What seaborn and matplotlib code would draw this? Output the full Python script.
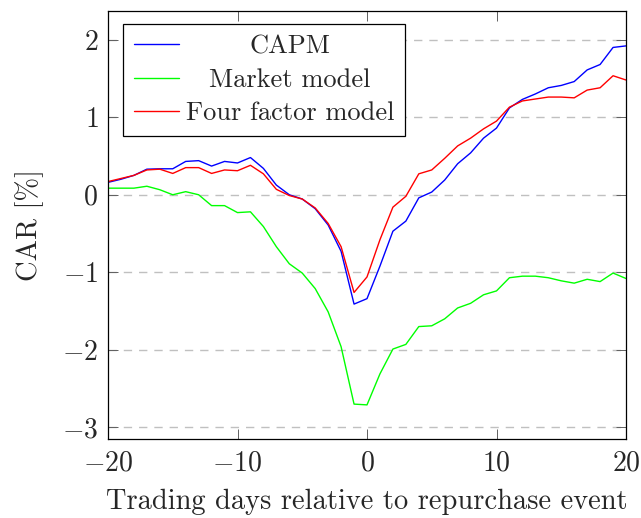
import numpy as np
import pandas as pd
import matplotlib
matplotlib.use("Agg")
import matplotlib.pyplot as plt
import seaborn as sns

days = list(range(-20, 21))

capm = [0.16, 0.20, 0.25, 0.33, 0.335, 0.335, 0.43, 0.44, 0.37, 0.43,
        0.41, 0.48, 0.34, 0.125, 0.0, -0.055, -0.18, -0.39, -0.73, -1.41,
        -1.34, -0.92, -0.47, -0.34, -0.04, 0.035, 0.19, 0.40, 0.54, 0.73,
        0.86, 1.12, 1.23, 1.30, 1.38, 1.41, 1.46, 1.61, 1.68, 1.90, 1.92]

market = [0.085, 0.085, 0.085, 0.11, 0.065, 0.0, 0.04, 0.0, -0.14, -0.14,
          -0.23, -0.22, -0.41, -0.67, -0.89, -1.01, -1.21, -1.51, -1.96, -2.70,
          -2.71, -2.31, -1.99, -1.93, -1.70, -1.69, -1.60, -1.46, -1.40, -1.29,
          -1.24, -1.07, -1.05, -1.05, -1.07, -1.11, -1.14, -1.09, -1.12, -1.01, -1.08]

four = [0.17, 0.21, 0.25, 0.32, 0.33, 0.275, 0.35, 0.35, 0.275, 0.32,
        0.31, 0.38, 0.27, 0.07, -0.01, -0.055, -0.17, -0.37, -0.67, -1.26,
        -1.06, -0.58, -0.16, -0.02, 0.27, 0.32, 0.47, 0.63, 0.73, 0.85,
        0.95, 1.13, 1.21, 1.235, 1.26, 1.26, 1.25, 1.35, 1.38, 1.535, 1.48]

models = ["CAPM", "Market model", "Four factor model"]
colors = ["#0000ff", "#00ff00", "#ff0000"]

df = pd.DataFrame({
    "day": days * 3,
    "car": capm + market + four,
    "model": [m for m in models for _ in days],
})

sns.set_theme(style="ticks")
plt.rcParams["font.family"] = "serif"
plt.rcParams["font.serif"] = ["cmr10"]
plt.rcParams["mathtext.fontset"] = "cm"
plt.rcParams["axes.formatter.use_mathtext"] = True
plt.rcParams["axes.unicode_minus"] = True

fig = plt.figure(figsize=(6.41, 5.18), dpi=100)
ax = fig.add_axes([108 / 641, 79 / 518, 518 / 641, 428 / 518])

sns.lineplot(data=df, x="day", y="car", hue="model", hue_order=models,
             palette=colors, linewidth=1.0, ax=ax, legend=True)

ax.set_xlim(-20, 20)
ax.set_ylim(-3.15, 2.37)
ax.set_xticks([-20, -10, 0, 10, 20])
ax.set_yticks([-3, -2, -1, 0, 1, 2])
ax.yaxis.grid(True, linestyle=(0, (6, 5)), color="#c0c0c0", linewidth=1.0)
ax.set_axisbelow(True)

ax.tick_params(direction="in", length=7, width=0.7, color="#606060",
               top=True, right=True, labelsize=20)
ax.tick_params(axis="x", pad=8)
ax.tick_params(axis="y", pad=7)
for s in ax.spines.values():
    s.set_linewidth(0.9)
    s.set_color("black")

ax.set_xlabel("Trading days relative to repurchase event", fontsize=20.5, labelpad=9)
ax.set_ylabel("CAR [%]", fontsize=20.5, labelpad=13)

handles, labels = ax.get_legend_handles_labels()
leg = ax.legend(handles, labels, loc="upper left", bbox_to_anchor=(0.029, 0.970),
                borderaxespad=0, fontsize=19, frameon=True, fancybox=False,
                framealpha=1, edgecolor="black", handlelength=1.7,
                labelspacing=0.36, borderpad=0.42, handletextpad=0.25)
leg.get_frame().set_linewidth(0.9)

# centre the legend labels like pgfplots does
fig.canvas.draw()
renderer = fig.canvas.get_renderer()
widths = [t.get_window_extent(renderer).width for t in leg.get_texts()]
wmax = max(widths)
column = leg._legend_handle_box.get_children()[0]
for box, w in zip(column.get_children(), widths):
    box.sep += (wmax - w) / 2 * 72 / fig.dpi

fig.savefig("out.png", dpi=100)
